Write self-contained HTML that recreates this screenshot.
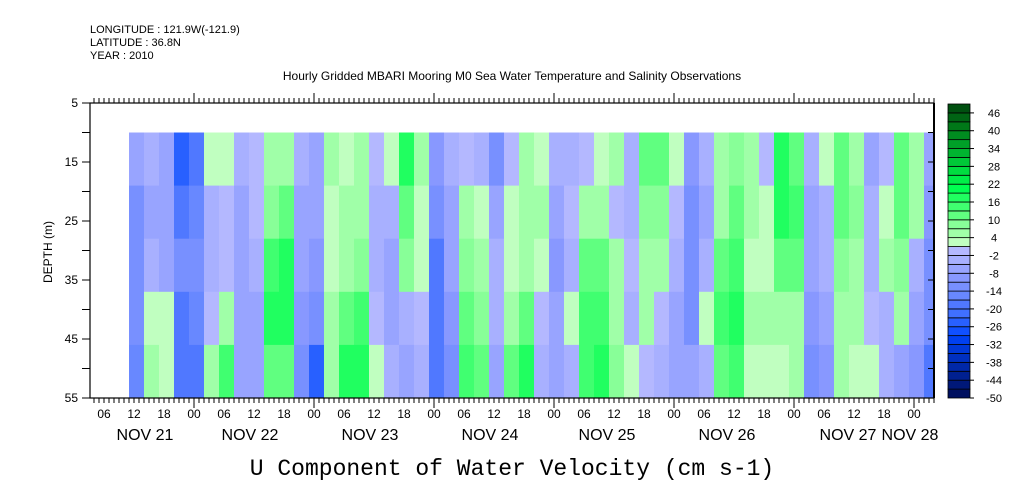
<!DOCTYPE html>
<html><head><meta charset="utf-8"><style>
body{margin:0;background:#fff;}
svg{display:block;font-family:"Liberation Sans",sans-serif;}
</style></head><body>
<svg id="chart" width="1009" height="504" viewBox="0 0 1009 504">
<text x="90" y="33" font-size="11">LONGITUDE : 121.9W(-121.9)</text>
<text x="90" y="46" font-size="11">LATITUDE : 36.8N</text>
<text x="90" y="59" font-size="11">YEAR : 2010</text>
<text x="512" y="80" font-size="12" text-anchor="middle">Hourly Gridded MBARI Mooring M0 Sea Water Temperature and Salinity Observations</text>
<text x="0" y="0" font-size="12" text-anchor="middle" transform="translate(52,252) rotate(-90)">DEPTH (m)</text>
<text x="512" y="475" font-size="23" text-anchor="middle" font-family="Liberation Mono, monospace">U Component of Water Velocity (cm s-1)</text>
<g id="cells"></g>
<g id="axes"></g>
<g id="cbar"></g>
</svg>
<script>
const startHour = 11;          // hours after Nov 20 00:00
const stepHours = 3;
const depthEdges = [10, 19, 28, 37, 46, 55];
const yTicks = [5, 15, 25, 35, 45, 55];
const hourLabels = ["06","12","18","00"];
const dayLabels = ["NOV 21","NOV 22","NOV 23","NOV 24","NOV 25","NOV 26","NOV 27","NOV 28"];
const dayLabelX = [145,250,370,490,607,727,848,910];
const cbarLabels = [-50,-44,-38,-32,-26,-20,-14,-8,-2,4,10,16,22,28,34,40,46];
const colCount = 54;
const u00=[-8,-12,-14,-14,-16], u01=[-4,-6,-4,2,4], u02=[-6,-8,-6,1,3], u03=[-26,-20,-14,-18,-20];
const u04=[-20,-16,-12,-16,-18], u05=[3,-4,-4,-2,4], u06=[2,-2,-2,5,14], u07=[-4,-6,-6,-8,-6];
const u08=[-2,-2,-4,-6,-8], u09=[5,8,14,16,10], u10=[4,10,18,18,12], u11=[-4,-6,-6,-10,-14];
const u12=[-6,-8,-10,-14,-24], u13=[5,3,2,4,4], u14=[2,4,6,10,16], u15=[5,6,8,14,18];
const u16=[-2,-4,-4,-2,3], u17=[3,-4,-6,-6,-4], u18=[16,12,8,-4,-6], u19=[4,3,2,-2,-4];
const u20=[-10,-14,-18,-20,-18], u21=[-4,-6,-8,-10,-12], u22=[-2,4,8,10,14], u23=[-4,2,6,8,10];
const u24=[-12,-6,-4,-4,-6], u25=[-2,2,2,4,10], u26=[5,6,6,12,18], u27=[2,4,2,-2,-4];
const u28=[-4,-6,-10,-8,-8], u29=[-4,-2,-4,2,-4], u30=[-2,6,12,14,14], u31=[3,4,12,14,18];
const u32=[4,-2,6,4,8], u33=[-4,-4,-2,-4,2], u34=[10,8,4,4,-2], u35=[12,8,4,-2,-4];
const u36=[2,-2,-4,-6,-6], u37=[-10,-12,-12,-12,-8], u38=[-4,-6,-4,2,-4], u39=[5,6,10,14,10];
const u40=[8,10,14,18,14], u41=[5,4,3,4,2], u42=[-2,2,3,4,3], u43=[16,18,10,6,3];
const u44=[12,14,10,5,4], u45=[-4,-6,-6,-10,-12], u46=[2,-4,-4,-8,-10], u47=[12,10,8,6,4];
const u48=[6,8,6,4,3], u49=[-6,-4,-4,-2,3], u50=[-2,3,5,-4,-4], u51=[12,10,8,4,-6];
const u52=[5,4,-4,-8,-10], u53=[-8,-10,-12,-14,-18];
const columns=[u00,u01,u02,u03,u04,u05,u06,u07,u08,u09,u10,u11,u12,u13,u14,u15,u16,u17,u18,u19,u20,u21,u22,u23,u24,u25,u26,u27,u28,u29,u30,u31,u32,u33,u34,u35,u36,u37,u38,u39,u40,u41,u42,u43,u44,u45,u46,u47,u48,u49,u50,u51,u52,u53];

const palette=["#001060","#001878","#002090","#0028a8","#0030c0","#0038d8","#0040f0","#1050ff","#2860ff","#4070ff","#5078ff","#6888ff","#7890ff","#8898ff","#98a4ff","#a8b0ff","#b4b8ff",
"#c0ffc0","#a0ffa8","#88ff98","#60ff80","#40ff70","#20ff60","#00ff50","#00ee48","#00dd40","#00c838","#00b430","#00a028","#008c20","#007818","#006414","#005010"];
const NS="http://www.w3.org/2000/svg";
const L=90,R=934,T=103,B=398;
const xOf=h=>74+5*h;
const yOf=d=>T+(d-5)*(B-T)/50;
function colorOf(v){let k=Math.floor((v+50)/3);k=Math.max(0,Math.min(32,k));return palette[k];}
function mk(tag,attrs,parent){const e=document.createElementNS(NS,tag);for(const k in attrs)e.setAttribute(k,attrs[k]);parent.appendChild(e);return e;}

const cells=document.getElementById('cells');
columns.forEach((col,i)=>{
  const x0=xOf(startHour+i*stepHours), x1=Math.min(R,xOf(startHour+(i+1)*stepHours));
  col.forEach((v,j)=>{
    const y0=yOf(depthEdges[j]), y1=yOf(depthEdges[j+1]);
    const r=mk('rect',{x:x0,y:y0,width:x1-x0+0.5,height:y1-y0+0.5,fill:colorOf(v)},cells);
    
    
  });
});

const ax=document.getElementById('axes');
mk('rect',{x:L,y:T,width:R-L,height:B-T,fill:'none',stroke:'#000','stroke-width':1.2},ax);
mk('line',{x1:R,y1:T,x2:R,y2:B,stroke:'#000','stroke-width':2},ax);
for(let h=4;h<=172;h++){
  const x=xOf(h); const major=(h%24===0);
  mk('line',{x1:x,y1:B,x2:x,y2:B+(major?10:5),stroke:'#000','stroke-width':1},ax);
  mk('line',{x1:x,y1:T,x2:x,y2:T-(major?10:5),stroke:'#000','stroke-width':1},ax);
}
for(let h=6;h<=168;h+=6){
  const t=mk('text',{x:xOf(h),y:418,'font-size':12,'text-anchor':'middle'},ax);
  t.textContent=hourLabels[(h/6-1)%4];
  
  
}
dayLabels.forEach((d,i)=>{
  const t=mk('text',{x:dayLabelX[i],y:440,'font-size':16,'text-anchor':'middle'},ax);
  t.textContent=d;
  
  
});
for(let d=5;d<=55;d+=5){
  mk('line',{x1:L-8,y1:yOf(d),x2:L,y2:yOf(d),stroke:'#000'},ax);
  mk('line',{x1:R-6,y1:yOf(d),x2:R,y2:yOf(d),stroke:'#000'},ax);
}
yTicks.forEach(d=>{
  const t=mk('text',{x:78,y:yOf(d)+4,'font-size':12,'text-anchor':'end'},ax);
  t.textContent=d;
  
  
});

const cb=document.getElementById('cbar');
const cx=948,cw=22,ch=(B-T-1)/33;
palette.forEach((c,k)=>{
  const r=mk('rect',{x:cx,y:B-(k+1)*ch,width:cw,height:ch,fill:c,stroke:'#000','stroke-width':0.8},cb);
  
  
});
cbarLabels.forEach(v=>{
  const y=B-((v+50)/3)*ch;
  mk('line',{x1:cx+cw,y1:y,x2:cx+cw+4,y2:y,stroke:'#000'},cb);
  const t=mk('text',{x:994,y:y+4,'font-size':11,'text-anchor':'middle'},cb);
  t.textContent=v;
  
  
});
</script>
</body></html>
